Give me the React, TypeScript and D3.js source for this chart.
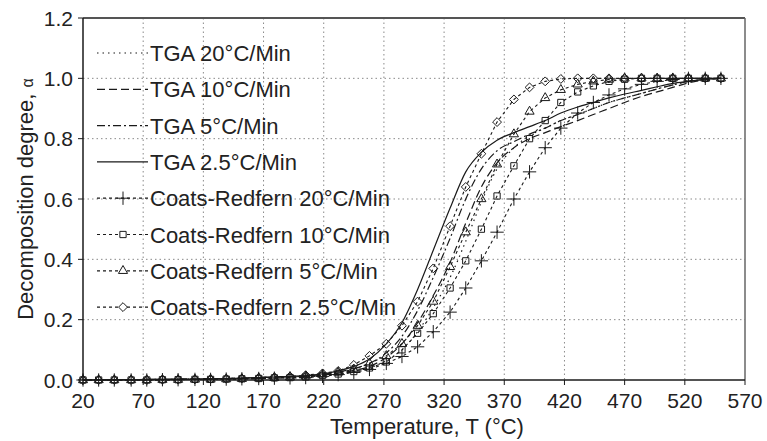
import React from 'react'
import * as d3 from 'd3'

// temperature grid (°C) shared by all series
const temps = [20, 33, 46, 60, 73, 86, 99, 113, 126, 139, 152, 166, 179, 192, 205, 219, 232, 245, 258, 272, 285, 298, 311, 325, 338, 351, 364, 378, 391, 404, 417, 431, 444, 457, 470, 484, 497, 510, 523, 537, 550]

const tga20 = [0, 0, 0.001, 0.001, 0.002, 0.002, 0.003, 0.003, 0.004, 0.005, 0.006, 0.008, 0.01, 0.011, 0.011, 0.015, 0.021, 0.03, 0.04, 0.065, 0.1, 0.16, 0.24, 0.34, 0.46, 0.59, 0.7, 0.77, 0.81, 0.835, 0.86, 0.88, 0.9, 0.92, 0.935, 0.95, 0.965, 0.978, 0.99, 0.996, 1.0]
const tga10 = [0, 0, 0.001, 0.001, 0.002, 0.002, 0.003, 0.003, 0.004, 0.005, 0.006, 0.008, 0.01, 0.011, 0.012, 0.016, 0.023, 0.032, 0.045, 0.075, 0.12, 0.19, 0.28, 0.39, 0.52, 0.64, 0.72, 0.77, 0.8, 0.82, 0.84, 0.86, 0.88, 0.9, 0.92, 0.94, 0.955, 0.97, 0.985, 0.995, 1.0]
const tga5 = [0, 0, 0.001, 0.001, 0.002, 0.002, 0.003, 0.003, 0.004, 0.005, 0.006, 0.008, 0.01, 0.012, 0.013, 0.018, 0.026, 0.038, 0.055, 0.09, 0.145, 0.23, 0.34, 0.47, 0.6, 0.7, 0.76, 0.79, 0.815, 0.835, 0.86, 0.88, 0.9, 0.92, 0.935, 0.95, 0.965, 0.978, 0.99, 0.996, 1.0]
const tga25 = [0, 0, 0.001, 0.001, 0.002, 0.002, 0.003, 0.003, 0.004, 0.005, 0.006, 0.008, 0.01, 0.012, 0.015, 0.02, 0.03, 0.045, 0.07, 0.12, 0.19, 0.3, 0.43, 0.57, 0.69, 0.755, 0.795, 0.82, 0.84, 0.86, 0.885, 0.905, 0.92, 0.935, 0.948, 0.96, 0.972, 0.983, 0.99, 0.997, 1.0]

const cr20 = [0, 0, 0, 0, 0, 0.001, 0.001, 0.002, 0.002, 0.003, 0.004, 0.005, 0.006, 0.007, 0.008, 0.012, 0.018, 0.025, 0.035, 0.055, 0.078, 0.11, 0.16, 0.225, 0.305, 0.395, 0.49, 0.6, 0.69, 0.77, 0.835, 0.885, 0.92, 0.945, 0.965, 0.98, 0.99, 0.996, 1.0, 1.0, 1.0]
const cr10 = [0, 0, 0, 0, 0, 0.001, 0.001, 0.002, 0.002, 0.003, 0.004, 0.005, 0.007, 0.008, 0.01, 0.015, 0.02, 0.028, 0.04, 0.06, 0.1, 0.155, 0.22, 0.305, 0.395, 0.5, 0.61, 0.71, 0.8, 0.86, 0.92, 0.955, 0.975, 0.99, 0.997, 1.0, 1.0, 1.0, 1.0, 1.0, 1.0]
const cr5 = [0, 0, 0, 0, 0, 0.001, 0.001, 0.002, 0.002, 0.003, 0.004, 0.006, 0.007, 0.009, 0.012, 0.018, 0.025, 0.035, 0.055, 0.08, 0.12, 0.18, 0.26, 0.375, 0.49, 0.6, 0.715, 0.815, 0.89, 0.935, 0.962, 0.98, 0.99, 0.996, 1.0, 1.0, 1.0, 1.0, 1.0, 1.0, 1.0]
const cr25 = [0, 0, 0, 0, 0, 0.001, 0.001, 0.002, 0.003, 0.004, 0.005, 0.007, 0.009, 0.012, 0.016, 0.022, 0.03, 0.05, 0.08, 0.12, 0.18, 0.26, 0.37, 0.51, 0.64, 0.75, 0.855, 0.93, 0.97, 0.99, 0.998, 1.0, 1.0, 1.0, 1.0, 1.0, 1.0, 1.0, 1.0, 1.0, 1.0]

const xTicks = [20, 70, 120, 170, 220, 270, 320, 370, 420, 470, 520, 570]
const yTicks = [0, 0.2, 0.4, 0.6, 0.8, 1.0, 1.2]

const tgaSeries = [
  { label: 'TGA 20°C/Min', values: tga20, dash: '1.5,4' },
  { label: 'TGA 10°C/Min', values: tga10, dash: '8,4' },
  { label: 'TGA 5°C/Min', values: tga5, dash: '8,3,2,3' },
  { label: 'TGA 2.5°C/Min', values: tga25, dash: null },
]
const crSeries = [
  { label: 'Coats-Redfern 20°C/Min', values: cr20, symbol: d3.symbolPlus, size: 60 },
  { label: 'Coats-Redfern 10°C/Min', values: cr10, symbol: d3.symbolSquare2, size: 50 },
  { label: 'Coats-Redfern 5°C/Min', values: cr5, symbol: d3.symbolTriangle2, size: 60 },
  { label: 'Coats-Redfern 2.5°C/Min', values: cr25, symbol: d3.symbolDiamond2, size: 50 },
]

const W = 767
const H = 441
const margin = { top: 18, right: 22, bottom: 61, left: 83 }
const FONT = 'Liberation Sans, Arial, sans-serif'
const INK = '#1a1a1a'
const TEXT = '#222'

export default function App() {
  const x = d3.scaleLinear().domain([20, 570]).range([margin.left, W - margin.right])
  const y = d3.scaleLinear().domain([0, 1.2]).range([H - margin.bottom, margin.top])
  const tgaLine = d3.line<number>().x((_, i) => x(temps[i])).y((d) => y(d)).curve(d3.curveMonotoneX)
  const crLine = d3.line<number>().x((_, i) => x(temps[i])).y((d) => y(d))

  const [x0, x1] = x.range()
  const [y0, y1] = y.range()

  const legendRows = [...tgaSeries.map((s) => ({ ...s, kind: 'tga' })), ...crSeries.map((s) => ({ ...s, kind: 'cr' }))]

  return (
    <svg width={W} height={H} style={{ position: 'absolute', left: 0, top: 0, background: '#fff' }} fontFamily={FONT}>
      {/* grid */}
      {xTicks.slice(1, -1).map((t) => (
        <line key={'gx' + t} x1={x(t)} x2={x(t)} y1={y1} y2={y0} stroke="#8a8a8a" strokeDasharray="1.5,3" />
      ))}
      {yTicks.slice(1, -1).map((t) => (
        <line key={'gy' + t} x1={x0} x2={x1} y1={y(t)} y2={y(t)} stroke="#8a8a8a" strokeDasharray="1.5,3" />
      ))}
      {/* frame */}
      <line x1={x0} x2={x1} y1={y1} y2={y1} stroke="#555" strokeWidth={2} />
      <line x1={x1} x2={x1} y1={y1} y2={y0} stroke="#666" strokeWidth={1.5} />
      <line x1={x0} x2={x1} y1={y0} y2={y0} stroke={INK} strokeWidth={1.5} />
      <line x1={x0} x2={x0} y1={y1} y2={y0} stroke={INK} strokeWidth={1.5} />

      {/* ticks */}
      {xTicks.map((t) => (
        <g key={'tx' + t}>
          <line x1={x(t)} x2={x(t)} y1={y0} y2={y0 + 5} stroke={INK} />
          <text x={x(t)} y={y0 + 28} textAnchor="middle" fontSize={21} fill={TEXT}>{t}</text>
        </g>
      ))}
      {yTicks.map((t) => (
        <g key={'ty' + t}>
          <line x1={x0 - 5} x2={x0} y1={y(t)} y2={y(t)} stroke={INK} />
          <text x={x0 - 10} y={y(t) + 7.5} textAnchor="end" fontSize={21} fill={TEXT}>{t.toFixed(1)}</text>
        </g>
      ))}

      {/* axis titles */}
      <text x={427} y={434} textAnchor="middle" fontSize={22} fill={TEXT}>Temperature, T (°C)</text>
      <text transform={`translate(33,${(y0 + y1) / 2}) rotate(-90)`} textAnchor="middle" fontSize={22} fill={TEXT}>
        Decomposition degree, <tspan fontSize={16}>α</tspan>
      </text>

      {/* TGA curves */}
      {tgaSeries.map((s) => (
        <path key={s.label} d={tgaLine(s.values) || ''} fill="none" stroke={INK} strokeWidth={1.2} strokeDasharray={s.dash || undefined} />
      ))}

      {/* Coats-Redfern fits */}
      {crSeries.map((s) => {
        const sym = d3.symbol(s.symbol, s.size)()
        return (
          <g key={s.label}>
            <path d={crLine(s.values) || ''} fill="none" stroke={INK} strokeWidth={1.1} strokeDasharray="3,3" />
            {s.values.map((v, i) => (
              <path key={i} d={sym || ''} transform={`translate(${x(temps[i])},${y(v)})`} fill="none" stroke={INK} strokeWidth={1} />
            ))}
          </g>
        )
      })}

      {/* legend */}
      {legendRows.map((r, i) => {
        const cy = 53 + i * 36.3
        return (
          <g key={'lg' + i}>
            <line x1={97} x2={148} y1={cy} y2={cy} stroke={INK} strokeWidth={1.2}
              strokeDasharray={r.kind === 'tga' ? ((r as any).dash || undefined) : '3,3'} />
            {r.kind === 'cr' && (
              <path d={d3.symbol((r as any).symbol, (r as any).size)() || ''} transform={`translate(123,${cy})`} fill="#fff" stroke={INK} />
            )}
            <text x={150} y={cy + 8} fontSize={22} fill={TEXT}>{r.label}</text>
          </g>
        )
      })}
    </svg>
  )
}
